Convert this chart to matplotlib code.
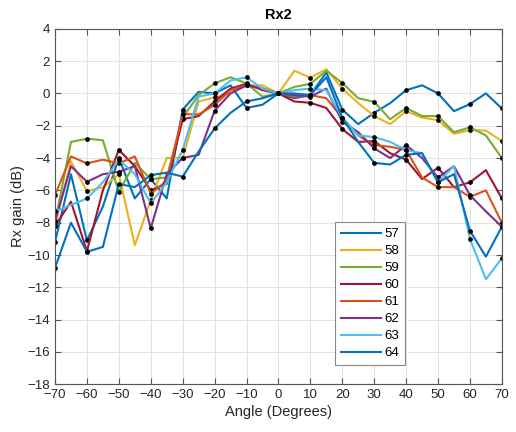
import numpy as np
import matplotlib
matplotlib.use("Agg")
import matplotlib.pyplot as plt

plt.rcParams['font.family'] = ['Liberation Sans', 'DejaVu Sans']

# Angles in degrees (5 degree steps), measured gain markers every 10 degrees
angles = np.arange(-70, 75, 5)

# Rx gain (dB) per channel
s57 = [-9.2, -5.0, -9.1, -7.0, -4.0, -6.5, -5.3, -6.5, -1.0, 0.1, 0.0, 0.5, -0.9, -0.7, 0.0,
       -0.3, -0.1, 1.3, -1.0, -1.9, -1.2, -0.6, 0.2, 0.5, 0.0, -1.1, -0.66, 0.0, -0.93]
s58 = [-8.2, -4.2, -6.05, -5.8, -5.0, -9.4, -6.6, -4.0, -4.0, -0.5, -0.25, 0.0, 0.5, 0.5, 0.0,
       1.4, 0.97, 1.5, 0.3, -0.6, -1.4, -1.9, -1.1, -1.5, -1.65, -2.5, -2.27, -2.3, -2.95]
s59 = [-8.0, -3.0, -2.8, -2.9, -6.1, -4.3, -5.3, -5.2, -1.5, -0.1, 0.62, 1.0, 0.62, -0.2, 0.0,
       0.4, 0.6, 1.4, 0.65, -0.3, -0.52, -1.6, -0.9, -1.4, -1.4, -2.4, -2.1, -2.6, -4.0]
s60 = [-8.2, -6.7, -9.76, -6.0, -3.5, -4.5, -6.0, -5.6, -1.6, -1.4, -0.5, 0.3, 0.6, 0.2, 0.0,
       -0.5, -0.58, -0.9, -2.2, -3.0, -2.95, -3.7, -4.1, -5.3, -4.6, -5.8, -5.5, -4.75, -6.5]
s61 = [-6.3, -3.9, -4.33, -4.1, -4.33, -3.9, -6.2, -5.4, -1.28, -1.3, -0.72, 0.2, 0.5, 0.3, 0.0,
       -0.2, -0.1, -0.3, -1.5, -2.6, -3.2, -3.3, -3.5, -5.2, -5.8, -5.8, -6.4, -6.0, -8.0]
s62 = [-7.9, -4.5, -5.47, -5.0, -4.85, -4.5, -8.35, -5.0, -4.0, -3.8, -1.07, 0.0, 0.5, 0.3, 0.0,
       -0.1, -0.2, 0.3, -1.75, -2.4, -3.4, -4.0, -3.2, -4.0, -5.2, -4.5, -6.3, -7.3, -8.25]
s63 = [-7.3, -6.9, -6.5, -5.5, -4.1, -5.0, -6.8, -5.5, -3.5, -0.2, 0.0, 0.8, 1.0, 0.3, 0.0,
       0.2, 0.3, 0.2, -1.5, -2.6, -2.7, -3.0, -3.5, -3.7, -5.5, -4.5, -9.0, -11.5, -10.2]
s64 = [-10.8, -8.0, -9.8, -9.5, -5.6, -5.8, -5.06, -4.9, -5.15, -3.6, -2.17, -1.2, -0.5, -0.3, 0.0,
       0.0, -0.1, 1.0, -1.5, -3.0, -4.3, -4.4, -3.8, -3.7, -5.5, -5.0, -8.5, -10.1, -8.25]

labels = ['57', '58', '59', '60', '61', '62', '63', '64']
series = [s57, s58, s59, s60, s61, s62, s63, s64]
colors = ['#0072BD', '#EDB120', '#77AC30', '#A2142F', '#D95319', '#7E2F8E', '#4DBEEE', '#0072BD']

fig = plt.figure(figsize=(5.16, 4.32), dpi=100)
ax = fig.add_axes([0.1066, 0.1104, 0.866, 0.823])

for vals, lab, col in zip(series, labels, colors):
    vals = np.array(vals)
    ax.plot(angles, vals, color=col, lw=1.5, label=lab, solid_joinstyle='round')
    # black dots at the 10 degree measurement points
    ax.plot(angles[::2], vals[::2], ls='none', marker='o', ms=2.4, color='black')

ax.set_xlim(-70, 70)
ax.set_ylim(-18, 4)
ax.set_xticks(np.arange(-70, 71, 10))
ax.set_yticks(np.arange(-18, 5, 2))
ax.tick_params(direction='in', top=True, right=True, labelsize=9.5, length=4,
               color='#555555', labelcolor='#262626')
ax.grid(True, color='#e3e3e3', lw=0.8)
ax.set_axisbelow(True)
for sp in ax.spines.values():
    sp.set_color('#555555')

ax.set_title('Rx2', fontsize=10.5, fontweight='bold', pad=7)
ax.set_xlabel('Angle (Degrees)', fontsize=10.5, color='#262626', labelpad=3)
ax.set_ylabel('Rx gain (dB)', fontsize=10.5, color='#262626', labelpad=2)

leg = ax.legend(loc='lower left', bbox_to_anchor=(0.612, 0.035), fontsize=9.5,
                handlelength=3.0, labelspacing=0.36, handletextpad=0.3,
                borderpad=0.45, fancybox=False, framealpha=1, edgecolor='#888888')
leg.get_frame().set_linewidth(0.8)

fig.savefig('out.png', dpi=100)
